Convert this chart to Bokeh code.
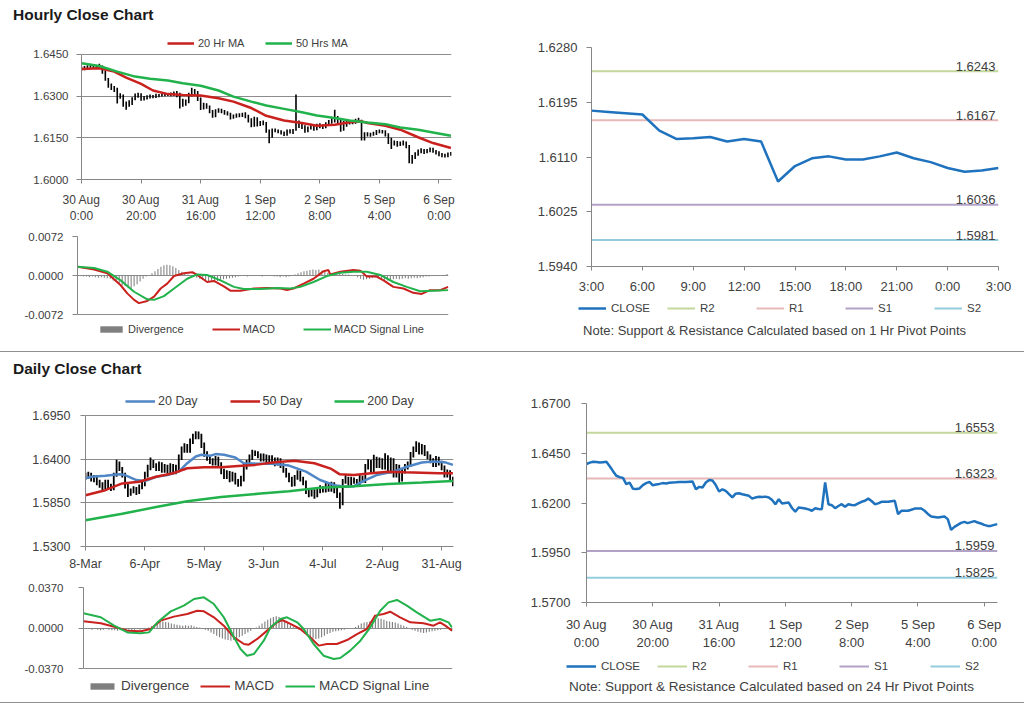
from bokeh.plotting import figure
from bokeh.models import Range1d, FixedTicker, NumeralTickFormatter, Legend, LegendItem, Label, Div
from bokeh.layouts import column, row
from bokeh.embed import file_html
from bokeh.resources import INLINE

# ---------------- DATA ----------------
# Hourly (bar index 0 = 30 Aug 0:00), tick every 20 bars
hourly_tick_pos = [0, 20, 40, 60, 80, 100, 120]
hourly_tick_labels = ["30 Aug\n0:00", "30 Aug\n20:00", "31 Aug\n16:00", "1 Sep\n12:00",
                      "2 Sep\n8:00", "5 Sep\n4:00", "6 Sep\n0:00"]

hourly_close = [
    1.6396, 1.6403, 1.6407, 1.6406, 1.6403, 1.6405, 1.6407, 1.6385, 1.6360, 1.6337,
    1.6330, 1.6326, 1.6295, 1.6302, 1.6272, 1.6270, 1.6273, 1.6290, 1.6300, 1.6306,
    1.6289, 1.6293, 1.6296, 1.6300, 1.6298, 1.6302, 1.6303, 1.6304, 1.6306, 1.6305,
    1.6306, 1.6307, 1.6308, 1.6269, 1.6281, 1.6278, 1.6303, 1.6316, 1.6313, 1.6290,
    1.6258, 1.6269, 1.6261, 1.6245, 1.6228, 1.6247, 1.6249, 1.6244, 1.6240, 1.6236,
    1.6222, 1.6228, 1.6231, 1.6230, 1.6232, 1.6228, 1.6215, 1.6194, 1.6219, 1.6197,
    1.6200, 1.6202, 1.6175, 1.6156, 1.6177, 1.6175, 1.6172, 1.6168, 1.6161, 1.6174,
    1.6170, 1.6169, 1.6303, 1.6194, 1.6189, 1.6174, 1.6185, 1.6194, 1.6181, 1.6194,
    1.6190, 1.6189, 1.6198, 1.6206, 1.6211, 1.6222, 1.6210, 1.6194, 1.6198, 1.6206,
    1.6206, 1.6206, 1.6209, 1.6211, 1.6144, 1.6161, 1.6161, 1.6161, 1.6166, 1.6172,
    1.6172, 1.6172, 1.6161, 1.6145, 1.6132, 1.6130, 1.6127, 1.6130, 1.6132, 1.6119,
    1.6065, 1.6080, 1.6090, 1.6100, 1.6105, 1.6099, 1.6104, 1.6109, 1.6102, 1.6097,
    1.6090, 1.6085, 1.6085, 1.6090, 1.6094]

hourly_high = [
    1.6406, 1.6408, 1.6411, 1.6412, 1.6410, 1.6409, 1.6416, 1.6410, 1.6392, 1.6365,
    1.6345, 1.6336, 1.6330, 1.6310, 1.6306, 1.6280, 1.6285, 1.6296, 1.6309, 1.6312,
    1.6310, 1.6300, 1.6303, 1.6306, 1.6304, 1.6308, 1.6307, 1.6310, 1.6312, 1.6311,
    1.6313, 1.6316, 1.6318, 1.6312, 1.6290, 1.6288, 1.6312, 1.6330, 1.6325, 1.6318,
    1.6295, 1.6276, 1.6274, 1.6266, 1.6250, 1.6253, 1.6256, 1.6254, 1.6250, 1.6245,
    1.6240, 1.6234, 1.6237, 1.6238, 1.6240, 1.6242, 1.6233, 1.6220, 1.6226, 1.6224,
    1.6210, 1.6212, 1.6207, 1.6180, 1.6183, 1.6183, 1.6180, 1.6177, 1.6173, 1.6180,
    1.6181, 1.6182, 1.6306, 1.6212, 1.6200, 1.6195, 1.6191, 1.6200, 1.6198, 1.6200,
    1.6202, 1.6198, 1.6206, 1.6214, 1.6222, 1.6251, 1.6228, 1.6215, 1.6210, 1.6215,
    1.6214, 1.6213, 1.6218, 1.6222, 1.6215, 1.6170, 1.6170, 1.6168, 1.6172, 1.6178,
    1.6180, 1.6178, 1.6177, 1.6166, 1.6150, 1.6140, 1.6138, 1.6137, 1.6140, 1.6137,
    1.6124, 1.6088, 1.6098, 1.6108, 1.6112, 1.6110, 1.6110, 1.6115, 1.6114, 1.6106,
    1.6102, 1.6095, 1.6093, 1.6097, 1.6099]

hourly_low = [
    1.6392, 1.6393, 1.6399, 1.6402, 1.6398, 1.6399, 1.6401, 1.6380, 1.6355, 1.6330,
    1.6322, 1.6315, 1.6273, 1.6290, 1.6262, 1.6251, 1.6262, 1.6268, 1.6285, 1.6294,
    1.6283, 1.6284, 1.6288, 1.6291, 1.6292, 1.6293, 1.6296, 1.6298, 1.6299, 1.6300,
    1.6299, 1.6300, 1.6296, 1.6255, 1.6262, 1.6265, 1.6274, 1.6298, 1.6305, 1.6282,
    1.6250, 1.6252, 1.6254, 1.6238, 1.6222, 1.6224, 1.6240, 1.6238, 1.6233, 1.6230,
    1.6216, 1.6218, 1.6222, 1.6224, 1.6225, 1.6220, 1.6205, 1.6188, 1.6190, 1.6191,
    1.6192, 1.6195, 1.6168, 1.6130, 1.6150, 1.6170, 1.6166, 1.6162, 1.6156, 1.6157,
    1.6165, 1.6164, 1.6175, 1.6185, 1.6182, 1.6168, 1.6170, 1.6180, 1.6175, 1.6177,
    1.6184, 1.6182, 1.6184, 1.6192, 1.6200, 1.6205, 1.6202, 1.6172, 1.6175, 1.6190,
    1.6198, 1.6199, 1.6200, 1.6204, 1.6140, 1.6140, 1.6155, 1.6154, 1.6157, 1.6160,
    1.6166, 1.6165, 1.6155, 1.6128, 1.6110, 1.6122, 1.6118, 1.6120, 1.6122, 1.6112,
    1.6058, 1.6057, 1.6074, 1.6085, 1.6094, 1.6092, 1.6094, 1.6098, 1.6096, 1.6090,
    1.6084, 1.6080, 1.6079, 1.6080, 1.6085]

ma20h_x = [0, 6, 11, 15, 20, 24, 29, 34, 40, 46, 51, 57, 62, 68, 74, 79, 85, 90, 94, 96, 102, 107, 113, 118, 124]
ma20h_y = [1.6397, 1.6400, 1.6388, 1.6366, 1.6344, 1.6320, 1.6307, 1.6304, 1.6302, 1.6292, 1.6280, 1.6257,
           1.6229, 1.6212, 1.6203, 1.6193, 1.6197, 1.6206, 1.6209, 1.6203, 1.6193, 1.6179, 1.6152, 1.6131, 1.6113]
ma50h_x = [0, 6, 12, 18, 23, 29, 34, 40, 46, 51, 57, 62, 68, 74, 79, 85, 90, 96, 102, 107, 113, 118, 124]
ma50h_y = [1.6418, 1.6408, 1.6388, 1.6370, 1.6362, 1.6356, 1.6346, 1.6337, 1.6320, 1.6298, 1.6280, 1.6266,
           1.6254, 1.6242, 1.6230, 1.6221, 1.6212, 1.6205, 1.6199, 1.6187, 1.6179, 1.6169, 1.6157]

macdh_x = [0, 5.6, 10, 14.5, 16.7, 19, 20.6, 23.4, 25.7, 27.9, 30.1, 32.4, 35.7, 38.5, 40.2, 43.5, 45.8,
           49.1, 51.3, 54.7, 59.2, 63.6, 68.1, 70.3, 72.5, 75.9, 79.2, 82.6, 84.2, 84.8, 88.2, 92.6, 94.9,
           97.1, 100.4, 102.7, 106, 109.4, 112.7, 115.5, 118.3, 121.7, 124.4]
macdh_y = [0.0016, 0.0011, 0.0004, -0.0018, -0.0033, -0.0045, -0.0051, -0.0047, -0.0039, -0.0024,
           -0.0015, -0.0001, 0.0004, 0.0006, 0.0001, -0.0012, -0.0010, -0.0020, -0.0028, -0.0028,
           -0.0024, -0.0023, -0.0024, -0.0027, -0.0024, -0.0015, -0.0006, 0.0008, 0.0010, 0.0002,
           0.0007, 0.0010, 0.0009, -0.0002, -0.0002, -0.0009, -0.0021, -0.0024, -0.0032, -0.0034,
           -0.0027, -0.0027, -0.0021]
sigh_x = [0, 5.6, 10, 14.5, 19, 23.4, 25.7, 29, 32.4, 36.8, 40.2, 43.5, 48, 52.5, 55.8, 61.4, 67, 71.4,
          74.8, 79.2, 83.7, 88.2, 92.6, 97.1, 101.6, 106, 110.5, 115, 119.4, 124.4]
sigh_y = [0.0016, 0.0014, 0.0007, -0.0009, -0.0030, -0.0044, -0.0045, -0.0038, -0.0024, -0.0006,
          0.0002, 0.0001, -0.0009, -0.0021, -0.0025, -0.0025, -0.0023, -0.0024, -0.0021, -0.0012,
          -0.0001, 0.0005, 0.0007, 0.0007, 0.0001, -0.0012, -0.0021, -0.0029, -0.0028, -0.0027]
divh = [0.0000, -0.0001, -0.0002,
        -0.0002, -0.0003, -0.0002, -0.0003, -0.0004, -0.0003, -0.0004, -0.0005, -0.0006,
        -0.0009, -0.0012, -0.0015, -0.0018, -0.0020, -0.0022, -0.0024,
        -0.0020, -0.0016, -0.0011, -0.0006,
        -0.0002, 0.0001, 0.0004,
        0.0008, 0.0012, 0.0016, 0.0019, 0.0020, 0.0019, 0.0017, 0.0014, 0.0010,
        0.0007, 0.0004, 0.0002, 0.0000,
        -0.0002, -0.0004, -0.0006, -0.0008, -0.0009, -0.0010, -0.0010, -0.0009, -0.0010, -0.0008,
        -0.0007, -0.0006, -0.0005, -0.0004, -0.0003, -0.0002,
        -0.0001, -0.0001, -0.0002, 0.0001, 0.0001, 0.0000, -0.0001, -0.0002, -0.0001, 0.0000,
        -0.0001, -0.0002, -0.0002, -0.0003, -0.0002, -0.0003, -0.0002, -0.0001,
        0.0002, 0.0004, 0.0006, 0.0008, 0.0009, 0.0010, 0.0011, 0.0010, 0.0011, 0.0009,
        0.0007, 0.0005, 0.0003, 0.0002, 0.0002, 0.0003, 0.0003, 0.0002, 0.0002, 0.0001, 0.0001,
        -0.0003, -0.0006, -0.0008, -0.0007, -0.0006, -0.0004, -0.0003, -0.0005, -0.0006, -0.0008,
        -0.0009, -0.0008,
        -0.0007, -0.0006, -0.0007, -0.0006, -0.0005, -0.0006, -0.0005, -0.0004, -0.0005, -0.0004,
        -0.0003, -0.0002, -0.0002, -0.0001, -0.0001, -0.0001, 0.0000, 0.0001,
        0.0003]

# Hourly pivot chart (last 24 hours)
pivot_hours = list(range(25))
pivot_hour_labels = ["3:00", "6:00", "9:00", "12:00", "15:00", "18:00", "21:00", "0:00", "3:00"]
pivot_close_1h = [1.6182, 1.6180, 1.6178, 1.6176, 1.6151, 1.6138, 1.6139, 1.6141, 1.6134, 1.6138,
                  1.6134, 1.6072, 1.6096, 1.6108, 1.6111, 1.6106, 1.6106, 1.6111, 1.6117, 1.6108,
                  1.6102, 1.6093, 1.6087, 1.6089, 1.6093]
level_names = ["R2", "R1", "S1", "S2"]
levels_1h = [1.6243, 1.6167, 1.6036, 1.5981]
levels_24h = [1.6553, 1.6323, 1.5959, 1.5825]

# Daily (bar index 0 = 8-Mar), tick every 21 trading days
daily_tick_pos = [0, 21, 42, 63, 84, 105, 126]
daily_tick_labels = ["8-Mar", "6-Apr", "5-May", "3-Jun", "4-Jul", "2-Aug", "31-Aug"]
daily_high = [
    1.6230, 1.6240, 1.6230, 1.6200, 1.6200, 1.6140, 1.6110, 1.6140, 1.6140, 1.6090,
    1.6230, 1.6392, 1.6370, 1.6300, 1.6230, 1.6090, 1.6030, 1.6060, 1.6050, 1.6080,
    1.6120, 1.6240, 1.6330, 1.6421, 1.6390, 1.6350, 1.6370, 1.6360, 1.6340, 1.6330,
    1.6350, 1.6340, 1.6330, 1.6460, 1.6560, 1.6600, 1.6590, 1.6660, 1.6720, 1.6753,
    1.6750, 1.6720, 1.6610, 1.6500, 1.6450, 1.6410, 1.6440, 1.6430, 1.6360, 1.6280,
    1.6260, 1.6250, 1.6240, 1.6230, 1.6150, 1.6190, 1.6340, 1.6390, 1.6460, 1.6519,
    1.6510, 1.6500, 1.6470, 1.6470, 1.6460, 1.6450, 1.6450, 1.6420, 1.6420, 1.6410,
    1.6350, 1.6290, 1.6230, 1.6180, 1.6200, 1.6260, 1.6250, 1.6180, 1.6130, 1.6030,
    1.6030, 1.6020, 1.6040, 1.6070, 1.6060, 1.6100, 1.6090, 1.6115, 1.6110, 1.6040,
    1.5980, 1.6150, 1.6200, 1.6180, 1.6180, 1.6170, 1.6150, 1.6200, 1.6190, 1.6340,
    1.6400, 1.6390, 1.6455, 1.6430, 1.6420, 1.6410, 1.6476, 1.6450, 1.6420, 1.6410,
    1.6340, 1.6330, 1.6290, 1.6340, 1.6370, 1.6490, 1.6560, 1.6625, 1.6610, 1.6590,
    1.6580, 1.6500, 1.6460, 1.6410, 1.6440, 1.6430, 1.6380, 1.6320, 1.6270, 1.6260,
    1.6180]
daily_low = [
    1.6140, 1.6150, 1.6120, 1.6110, 1.6070, 1.6040, 1.6010, 1.6020, 1.6030, 1.6000,
    1.6010, 1.6180, 1.6250, 1.6170, 1.6030, 1.5924, 1.5940, 1.5970, 1.5950, 1.5960,
    1.6020, 1.6060, 1.6170, 1.6260, 1.6290, 1.6250, 1.6250, 1.6230, 1.6230, 1.6220,
    1.6220, 1.6210, 1.6210, 1.6260, 1.6390, 1.6480, 1.6480, 1.6480, 1.6590, 1.6650,
    1.6650, 1.6540, 1.6430, 1.6380, 1.6340, 1.6320, 1.6320, 1.6300, 1.6210, 1.6150,
    1.6150, 1.6110, 1.6120, 1.6080, 1.6052, 1.6060, 1.6120, 1.6270, 1.6320, 1.6390,
    1.6440, 1.6410, 1.6370, 1.6370, 1.6340, 1.6340, 1.6360, 1.6310, 1.6320, 1.6290,
    1.6230, 1.6170, 1.6110, 1.6052, 1.6060, 1.6140, 1.6120, 1.6070, 1.5960, 1.5920,
    1.5930, 1.5903, 1.5920, 1.5970, 1.5980, 1.5980, 1.5990, 1.5990, 1.5970, 1.5910,
    1.5776, 1.5820, 1.6090, 1.6050, 1.6050, 1.6090, 1.6070, 1.6070, 1.6100, 1.6100,
    1.6270, 1.6230, 1.6230, 1.6290, 1.6290, 1.6270, 1.6270, 1.6220, 1.6220, 1.6170,
    1.6170, 1.6094, 1.6120, 1.6220, 1.6270, 1.6300, 1.6420, 1.6490, 1.6460, 1.6460,
    1.6440, 1.6400, 1.6350, 1.6300, 1.6300, 1.6320, 1.6260, 1.6170, 1.6170, 1.6120,
    1.6060]

ma20d_x = [0, 2, 7, 12, 14, 18, 21, 25, 29, 33, 36, 39, 41, 44, 46, 49, 53, 56, 60, 66, 72, 78, 83, 88,
           92, 95, 99, 103, 109, 114, 119, 123, 127, 130]
ma20d_y = [1.6158, 1.6179, 1.6192, 1.6209, 1.6200, 1.6137, 1.6124, 1.6179, 1.6200, 1.6243, 1.6349, 1.6434,
           1.6455, 1.6442, 1.6464, 1.6455, 1.6421, 1.6349, 1.6345, 1.6341, 1.6319, 1.6243, 1.6137, 1.6073,
           1.6052, 1.6060, 1.6137, 1.6200, 1.6243, 1.6307, 1.6358, 1.6370, 1.6362, 1.6328]
ma50d_x = [0, 7, 13, 19, 25, 31, 36, 42, 48, 54, 60, 67, 74, 81, 87, 90, 95, 101, 107, 113, 119, 125, 130]
ma50d_y = [1.5946, 1.6009, 1.6094, 1.6115, 1.6179, 1.6222, 1.6285, 1.6298, 1.6298, 1.6315, 1.6328, 1.6362,
           1.6379, 1.6349, 1.6277, 1.6209, 1.6200, 1.6222, 1.6243, 1.6234, 1.6230, 1.6222, 1.6222]
ma200d_x = [0, 13, 25, 36, 48, 62, 72, 83, 95, 107, 119, 130]
ma200d_y = [1.5630, 1.5712, 1.5797, 1.5869, 1.5924, 1.5967, 1.5997, 1.6040, 1.6060, 1.6088, 1.6105, 1.6125]

macdd_x = [0, 6.1, 10.8, 15.5, 20.2, 23.7, 27.2, 31.9, 36.6, 40.1, 42.5, 46, 49.5, 53.1, 56.6, 58.3, 61.3,
           64.8, 68.3, 70.1, 73, 76.5, 80, 83, 85.9, 89.4, 93, 96.5, 100, 102.9, 105.9, 108.2, 111.7,
           115.3, 120, 123.5, 125.8, 128.2, 130]
macdd_y = [0.0061, 0.0043, 0.0012, -0.0024, -0.0030, -0.0009, 0.0067, 0.0104, 0.0128, 0.0158, 0.0152,
           0.0098, 0.0021, -0.0085, -0.0146, -0.0152, -0.0100, -0.0024, 0.0052, 0.0073, 0.0037, -0.0009,
           -0.0085, -0.0161, -0.0146, -0.0146, -0.0110, -0.0055, -0.0009, 0.0113, 0.0128, 0.0149, 0.0098,
           0.0052, 0.0043, 0.0021, 0.0052, 0.0012, -0.0024]
sigd_x = [0, 6.1, 10.8, 15.5, 20.2, 23.1, 26.1, 30.8, 35.4, 39, 42.5, 46, 49.5, 53.1, 55.4, 57.7, 60.1,
          63.6, 66, 69.5, 71.8, 75.4, 77.7, 81.2, 84.7, 88.3, 90.6, 94.1, 97.7, 101.2, 104.7, 107.6,
          110.6, 114.1, 117.6, 122.3, 125.8, 128.8, 130]
sigd_y = [0.0134, 0.0098, 0.0021, -0.0040, -0.0049, -0.0040, 0.0052, 0.0152, 0.0204, 0.0265, 0.0280,
          0.0219, 0.0098, -0.0085, -0.0192, -0.0253, -0.0238, -0.0116, 0.0006, 0.0082, 0.0098, 0.0052,
          -0.0009, -0.0146, -0.0253, -0.0283, -0.0274, -0.0207, -0.0116, 0.0006, 0.0158, 0.0234, 0.0256,
          0.0204, 0.0143, 0.0067, 0.0082, 0.0052, 0.0006]
divd = [-0.0005, -0.0010, -0.0010, -0.0015, -0.0010, -0.0015, -0.0020, -0.0015, -0.0010, -0.0015, -0.0020,
        -0.0020, -0.0025, -0.0020, -0.0015, -0.0020, -0.0025, -0.0020, -0.0015, -0.0010, -0.0015, -0.0010,
        -0.0005, 0.0005, 0.0015,
        0.0030, 0.0045, 0.0055, 0.0060, 0.0055, 0.0050, 0.0040, 0.0035, 0.0030, 0.0025,
        0.0020, 0.0025, 0.0020, 0.0025, 0.0015, 0.0010, 0.0005, -0.0005, -0.0015, -0.0025,
        -0.0040, -0.0055, -0.0070, -0.0085, -0.0095, -0.0105, -0.0110, -0.0116, -0.0110, -0.0100, -0.0085,
        -0.0070, -0.0055, -0.0040, -0.0025, -0.0010, 0.0005, 0.0020,
        0.0040, 0.0060, 0.0075, 0.0090, 0.0100, 0.0107, 0.0100, 0.0085, 0.0065, 0.0045, 0.0025, 0.0010,
        0.0000, -0.0015, -0.0030,
        -0.0050, -0.0070, -0.0085, -0.0095, -0.0100, -0.0095, -0.0085, -0.0070, -0.0055, -0.0045, -0.0035,
        -0.0030, -0.0025, -0.0020, -0.0015, -0.0010, -0.0005, 0.0000, 0.0010, 0.0025,
        0.0040, 0.0050, 0.0055, 0.0060, 0.0070, 0.0080, 0.0090, 0.0085, 0.0075, 0.0065, 0.0060, 0.0055,
        0.0050, 0.0040, 0.0030, 0.0020, 0.0010, 0.0000,
        -0.0015, -0.0025, -0.0035, -0.0040, -0.0045, -0.0040, -0.0035, -0.0030, -0.0025, -0.0020, -0.0015,
        -0.0010, 0.0005, -0.0010, -0.0030]

hourly_price_ticks = [1.6000, 1.6150, 1.6300, 1.6450]
hourly_macd_ticks = [-0.0072, 0.0, 0.0072]
pivot1h_ticks = [1.5940, 1.6025, 1.6110, 1.6195, 1.6280]
daily_price_ticks = [1.5300, 1.5850, 1.6400, 1.6950]
daily_macd_ticks = [-0.0370, 0.0, 0.0370]
pivot24h_ticks = [1.5700, 1.5950, 1.6200, 1.6450, 1.6700]

# ---------------- STYLE ----------------
FONT = "Liberation Sans"
TXT = "#404040"
AXC = "#868686"
GRID = "#8c8c8c"
RED = "#c9211e"
GREEN = "#22b24c"
BLUE20 = "#4f86c6"
CLOSE_C = "#1f72bd"
DIV_C = "#7f7f7f"
LEVEL_COLORS = ["#c3d69b", "#e6b9b8", "#b3a2c7", "#93cddd"]


def extend(ticks, px_span, px_extra):
    """data distance covered by px_extra pixels when the tick span takes px_span pixels"""
    return (ticks[-1] - ticks[0]) * px_extra / px_span


def base_fig(w, h, left, right, top, bottom, xr, yr, x_axis=True):
    p = figure(width=w, height=h, x_range=xr, y_range=yr, output_backend="svg",
               toolbar_location=None, min_border_left=left, min_border_right=right,
               min_border_top=top, min_border_bottom=bottom, title=None, frame_align=False,
               x_axis_location="below" if x_axis else None)
    p.outline_line_color = None
    p.border_fill_color = "white"
    p.background_fill_color = "white"
    p.xgrid.grid_line_color = None
    p.ygrid.grid_line_color = None
    return p


def strip_fig(w, h):
    s = figure(width=w, height=h, x_range=Range1d(0, 1), y_range=Range1d(0, 1), output_backend="svg",
               toolbar_location=None, min_border_left=0, min_border_right=0, min_border_top=0,
               min_border_bottom=0, title=None, frame_align=False,
               x_axis_location=None, y_axis_location=None)
    s.outline_line_color = None
    s.border_fill_color = "white"
    s.background_fill_color = "white"
    s.grid.visible = False
    return s


def style_axis(ax, size, standoff, tick_out=5):
    ax.axis_line_color = AXC
    ax.major_tick_line_color = AXC
    ax.minor_tick_line_color = None
    ax.major_tick_in = 0
    ax.major_tick_out = tick_out
    ax.major_label_text_font = FONT
    ax.major_label_text_font_size = size
    ax.major_label_text_color = TXT
    ax.major_label_standoff = standoff


def y_setup(p, ticks, size, standoff, grid=True):
    p.yaxis.ticker = FixedTicker(ticks=ticks)
    p.yaxis.formatter = NumeralTickFormatter(format="0.0000")
    p.yaxis.bounds = (ticks[0], ticks[-1])
    style_axis(p.yaxis[0], size, standoff)
    if grid:
        p.ygrid.ticker = FixedTicker(ticks=ticks)
        p.ygrid.grid_line_color = GRID
        p.ygrid.grid_line_width = 1


def x_setup(p, pos, labels, size, standoff, tick_out=4):
    p.xaxis.ticker = FixedTicker(ticks=pos)
    p.xaxis.major_label_overrides = {k: v for k, v in zip(pos, labels)}
    style_axis(p.xaxis[0], size, standoff, tick_out)


def make_legend(items, loc, size, glyph_w, standoff, spacing, label_width=0):
    return Legend(items=items, location=loc, orientation="horizontal",
                  border_line_color=None, background_fill_alpha=0, padding=0, margin=0,
                  spacing=spacing, glyph_width=glyph_w, glyph_height=8, label_standoff=standoff,
                  label_text_font=FONT, label_text_font_size=size, label_text_color=TXT,
                  label_height=10, label_width=label_width)


def note_label(text, x, y, size):
    return Label(x=x, y=y, x_units="screen", y_units="screen", text=text, text_align="center",
                 text_baseline="middle", text_font=FONT, text_font_size=size, text_color=TXT)


# ---------- Hourly price (frame extended upward to hold the legend) ----------
hp = base_fig(500, 200, 81, 49, 4, 46, Range1d(0, 124.2),
              Range1d(hourly_price_ticks[0], hourly_price_ticks[-1] + extend(hourly_price_ticks, 126, 24)))
y_setup(hp, hourly_price_ticks, "11.5px", 8)
x_setup(hp, hourly_tick_pos, hourly_tick_labels, "12px", 9)
hx = list(range(len(hourly_close)))
hp.segment(x0=hx, y0=hourly_low, x1=hx, y1=hourly_high, line_color="black", line_width=1.6)
r20 = hp.line(ma20h_x, ma20h_y, line_color=RED, line_width=2.5)
r50 = hp.line(ma50h_x, ma50h_y, line_color=GREEN, line_width=2.5)
hp.add_layout(make_legend([LegendItem(label="20 Hr MA", renderers=[r20]),
                           LegendItem(label="50 Hrs MA", renderers=[r50])],
                          (86, 130), "11px", 27, 4, 7, 60))

# ---------- Hourly MACD (frame extended downward to hold the legend) ----------
hm = base_fig(500, 125, 77, 52, 10, 11, Range1d(0, 124.5),
              Range1d(hourly_macd_ticks[0] - extend(hourly_macd_ticks, 78, 26), hourly_macd_ticks[-1]),
              x_axis=False)
y_setup(hm, hourly_macd_ticks, "11.5px", 9)
rdh = hm.vbar(x=list(range(len(divh))), top=divh, width=0.35, fill_color=DIV_C, line_color=None)
rmh = hm.line(macdh_x, macdh_y, line_color=RED, line_width=2)
rsh = hm.line(sigh_x, sigh_y, line_color=GREEN, line_width=2)
hm.add_layout(make_legend([LegendItem(label="Divergence", renderers=[rdh]),
                           LegendItem(label="MACD", renderers=[rmh]),
                           LegendItem(label="MACD Signal Line", renderers=[rsh])],
                          (20, 5), "11px", 28, 3, 28))

# ---------- Hourly pivot ----------
pv = base_fig(524, 272, 91, 26, 21, 32, Range1d(pivot_hours[0], pivot_hours[-1]), Range1d(1.5940, 1.6280))
y_setup(pv, pivot1h_ticks, "13px", 9, grid=False)
x_setup(pv, pivot_hours[::3], pivot_hour_labels, "13px", 8)
# legend strip below the chart: the same series are drawn there (outside its visible range) as legend keys
pv_strip = strip_fig(524, 53)
items = [LegendItem(label="CLOSE",
                    renderers=[pv_strip.line(pivot_hours, pivot_close_1h, line_color=CLOSE_C, line_width=2.5)])]
for name, lv, col in zip(level_names, levels_1h, LEVEL_COLORS):
    pv.line([pivot_hours[0], pivot_hours[-1]], [lv, lv], line_color=col, line_width=2)
    pv.add_layout(Label(x=pivot_hours[-1], y=lv, text=f"{lv:.4f}", x_offset=-3, y_offset=5,
                        text_align="right", text_baseline="alphabetic", text_font=FONT,
                        text_font_size="13px", text_color=TXT))
    items.append(LegendItem(label=name, renderers=[
        pv_strip.line([pivot_hours[0], pivot_hours[-1]], [lv, lv], line_color=col, line_width=2)]))
pv.line(pivot_hours, pivot_close_1h, line_color=CLOSE_C, line_width=2.5)
pv_strip.add_layout(make_legend(items, (78, 37), "11.5px", 28, 5, 6, 50))
pv_strip.add_layout(note_label("Note: Support & Resistance Calculated based on 1 Hr Pivot Points",
                               274, 21, "13px"))

# ---------- Daily price (frame extended upward to hold the legend) ----------
dp = base_fig(500, 193, 85, 47, 10, 27, Range1d(0, 130.2),
              Range1d(daily_price_ticks[0], daily_price_ticks[-1] + extend(daily_price_ticks, 131, 25)))
y_setup(dp, daily_price_ticks, "12.5px", 10)
x_setup(dp, daily_tick_pos, daily_tick_labels, "12.5px", 6)
dx = list(range(len(daily_high)))
dp.segment(x0=dx, y0=daily_low, x1=dx, y1=daily_high, line_color="black", line_width=1.8)
rb = dp.line(ma20d_x, ma20d_y, line_color=BLUE20, line_width=2.5)
rr = dp.line(ma50d_x, ma50d_y, line_color=RED, line_width=2.5)
rg = dp.line(ma200d_x, ma200d_y, line_color=GREEN, line_width=2.5)
dp.add_layout(make_legend([LegendItem(label="20 Day", renderers=[rb]),
                           LegendItem(label="50 Day", renderers=[rr]),
                           LegendItem(label="200 Day", renderers=[rg])],
                          (40, 138), "12.5px", 30, 3, 32))

# ---------- Daily MACD (frame extended downward to hold the legend) ----------
dm = base_fig(500, 129, 83, 48, 14, 7, Range1d(0, 130.2),
              Range1d(daily_macd_ticks[0] - extend(daily_macd_ticks, 81, 27), daily_macd_ticks[-1]),
              x_axis=False)
y_setup(dm, daily_macd_ticks, "11.5px", 15)
rdd = dm.vbar(x=list(range(len(divd))), top=divd, width=0.4, fill_color=DIV_C, line_color=None)
rmd = dm.line(macdd_x, macdd_y, line_color=RED, line_width=2)
rsd = dm.line(sigd_x, sigd_y, line_color=GREEN, line_width=2)
dm.add_layout(make_legend([LegendItem(label="Divergence", renderers=[rdd]),
                           LegendItem(label="MACD", renderers=[rmd]),
                           LegendItem(label="MACD Signal Line", renderers=[rsd])],
                          (4, 2), "13.5px", 30, 4, 11))

# ---------- Daily pivot (24 Hr) ----------
dv = base_fig(524, 272, 86, 27, 23, 50, Range1d(0, len(hourly_close) - 1), Range1d(1.5700, 1.6700))
y_setup(dv, pivot24h_ticks, "13px", 11, grid=False)
x_setup(dv, hourly_tick_pos, hourly_tick_labels, "13px", 10)
dv_strip = strip_fig(524, 50)
items = [LegendItem(label="CLOSE",
                    renderers=[dv_strip.line(hx, hourly_close, line_color=CLOSE_C, line_width=2.5)])]
for name, lv, col in zip(level_names, levels_24h, LEVEL_COLORS):
    dv.line([0, len(hourly_close) - 1], [lv, lv], line_color=col, line_width=2)
    dv.add_layout(Label(x=len(hourly_close) - 1, y=lv, text=f"{lv:.4f}", x_offset=-3, y_offset=5,
                        text_align="right", text_baseline="alphabetic", text_font=FONT,
                        text_font_size="13px", text_color=TXT))
    items.append(LegendItem(label=name, renderers=[
        dv_strip.line([0, len(hourly_close) - 1], [lv, lv], line_color=col, line_width=2)]))
dv.line(hx, hourly_close, line_color=CLOSE_C, line_width=2.5)
dv_strip.add_layout(make_legend(items, (66, 30), "11.5px", 30, 5, 6, 50))
dv_strip.add_layout(note_label("Note: Support & Resistance Calculated based on 24 Hr Pivot Points",
                               271, 16, "13.5px"))


# ---------- Page layout ----------
def title_div(text, h, pad_top, border=False):
    b = "border-top:1px solid #8f8f8f;" if border else ""
    return Div(text=f'<div style="{b}width:1024px;font-family:\'Liberation Sans\';font-weight:bold;'
                    f'font-size:15.5px;color:#1a1a1a;padding:{pad_top}px 0 0 13px;margin:0;'
                    f'line-height:normal;box-sizing:border-box;">{text}</div>',
               width=1024, height=h, margin=0)


bottom_sep = Div(text="", width=1024, height=4, margin=0,
                 styles={"border-top": "1px solid #8f8f8f", "box-sizing": "border-box"})

root = column(
    title_div("Hourly Close Chart", 26, 6),
    row(column(hp, hm, spacing=0), column(pv, pv_strip, spacing=0), spacing=0),
    title_div("Daily Close Chart", 29, 8, border=True),
    row(column(dp, dm, spacing=0), column(dv, dv_strip, spacing=0), spacing=0),
    bottom_sep,
    spacing=0,
)

open("out.html", "w").write(file_html(root, INLINE))
